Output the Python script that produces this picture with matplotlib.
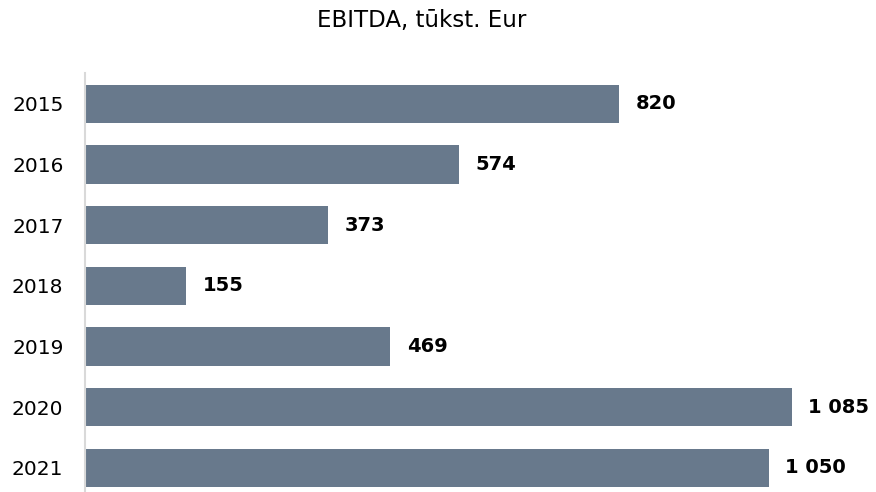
import numpy as np
import matplotlib.pyplot as plt

years = ["2015", "2016", "2017", "2018", "2019", "2020", "2021"]
ebitda = [820, 574, 373, 155, 469, 1085, 1050]
title = "EBITDA, tūkst. Eur"

fig = plt.figure(figsize=(8.76, 4.92), dpi=100)
ax = fig.add_axes([85/876, 0.0, (873-85)/876, 1-73/492])

y = np.arange(len(years))
ax.barh(y, ebitda, height=0.63, color="#68798c")
ax.set_ylim(6.4, -0.51)
ax.set_xlim(0, 1210)
ax.set_yticks(y)
ax.set_yticklabels(years, fontsize=14.5)
ax.set_xticks([])
ax.tick_params(axis="y", length=0, pad=15.5)
for s in ["top", "right", "bottom"]:
    ax.spines[s].set_visible(False)
ax.spines["left"].set_color("#d9d9d9")
ax.spines["left"].set_linewidth(1.5)

for i, v in enumerate(ebitda):
    lab = "{:,}".format(v).replace(",", " ")
    ax.annotate(lab, (v, i), xytext=(12, 0), textcoords="offset points",
                va="center", ha="left", fontsize=14, fontweight="bold")

fig.text(422/876, 1-21/492, title, ha="center", va="center", fontsize=16.5)
fig.savefig("out.png", dpi=100)
